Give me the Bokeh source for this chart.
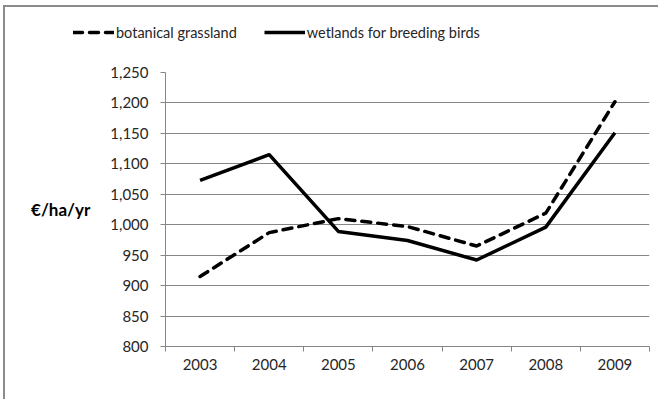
from bokeh.plotting import figure
from bokeh.layouts import column
from bokeh.models import (Legend, LegendItem, FixedTicker, NumeralTickFormatter,
                          Range1d, ColumnDataSource)
from bokeh.embed import file_html
from bokeh.resources import INLINE

years = ["2003", "2004", "2005", "2006", "2007", "2008", "2009"]
botanical_grassland = [915, 987, 1010, 997, 965, 1019, 1202]
wetlands_breeding_birds = [1073, 1115, 989, 974, 942, 996, 1151]
y_ticks = [800, 850, 900, 950, 1000, 1050, 1100, 1150, 1200, 1250]
series_labels = ["botanical grassland", "wetlands for breeding birds"]

FONT = "Lato"
GRAY = "#868686"
xpos = list(range(1, len(years) + 1))
src = ColumnDataSource(dict(x=xpos, bg=botanical_grassland, wb=wetlands_breeding_birds))

dash_style = dict(line_color="black", line_width=3.5, line_dash="9 7",
                  line_cap="round", line_join="round")
solid_style = dict(line_color="black", line_width=3.5, line_join="round")

# ---- legend strip (top) ----
lf = figure(width=653, height=40, output_backend="svg", toolbar_location=None,
            x_axis_type=None, y_axis_type=None,
            x_range=Range1d(0.5, len(years) + 0.5), y_range=Range1d(0, 1),
            min_border=0)
lf.frame_align = False
lf.outline_line_color = None
lf.xgrid.grid_line_color = None
lf.ygrid.grid_line_color = None
lr1 = lf.line("x", "bg", source=src, **dash_style)
lr2 = lf.line("x", "wb", source=src, **solid_style)
legend = Legend(items=[LegendItem(label=series_labels[0], renderers=[lr1]),
                       LegendItem(label=series_labels[1], renderers=[lr2])],
                orientation="horizontal", location=(68, 5))
legend.border_line_color = None
legend.background_fill_alpha = 0
legend.label_text_font = FONT
legend.label_text_font_size = "14.5px"
legend.label_text_color = "#262626"
legend.glyph_width = 41
legend.label_standoff = 2
legend.spacing = 27
legend.margin = 0
legend.padding = 0
lf.add_layout(legend, "center")

# ---- main chart ----
p = figure(width=653, height=352, output_backend="svg", toolbar_location=None,
           x_range=Range1d(0.5, len(years) + 0.5), y_range=Range1d(800, 1250),
           min_border_left=160, min_border_right=9, min_border_top=25,
           min_border_bottom=53)
p.frame_align = False
p.outline_line_color = None

r1 = p.line("x", "bg", source=src, **dash_style)
r2 = p.line("x", "wb", source=src, **solid_style)

# x axis: labels at category centres, ticks at category boundaries
p.xaxis.ticker = FixedTicker(ticks=xpos, minor_ticks=[x - 0.5 for x in xpos] + [len(years) + 0.5])
p.xaxis.major_label_overrides = {x: y for x, y in zip(xpos, years)}
p.xaxis.major_tick_line_color = None
p.xaxis.minor_tick_in = 0
p.xaxis.minor_tick_out = 5
p.xaxis.minor_tick_line_color = GRAY
p.xaxis.axis_line_color = GRAY
p.xaxis.major_label_text_font = FONT
p.xaxis.major_label_text_font_size = "15px"
p.xaxis.major_label_text_color = "#262626"
p.xaxis.major_label_standoff = 6
p.xgrid.grid_line_color = None

p.yaxis.ticker = FixedTicker(ticks=y_ticks)
p.yaxis.formatter = NumeralTickFormatter(format="0,0")
p.yaxis.minor_tick_line_color = None
p.yaxis.major_tick_in = 0
p.yaxis.major_tick_out = 5
p.yaxis.major_tick_line_color = GRAY
p.yaxis.axis_line_color = GRAY
p.yaxis.major_label_text_font = FONT
p.yaxis.major_label_text_font_size = "15px"
p.yaxis.major_label_text_color = "#262626"
p.yaxis.major_label_standoff = 12
p.yaxis.axis_label = "€/ha/yr"
p.yaxis.axis_label_orientation = "horizontal"
p.yaxis.axis_label_text_font = FONT
p.yaxis.axis_label_text_font_style = "bold"
p.yaxis.axis_label_text_font_size = "17px"
p.yaxis.axis_label_text_color = "black"
p.yaxis.axis_label_standoff = 17
p.ygrid.grid_line_color = GRAY
p.ygrid.grid_line_width = 1

layout = column(lf, p, spacing=0)
layout.styles = {"margin-left": "3px", "margin-top": "5px",
                 "border-left": "2px solid #8c8c8c", "border-top": "2px solid #8c8c8c"}

open("out.html", "w").write(file_html(layout, INLINE))
